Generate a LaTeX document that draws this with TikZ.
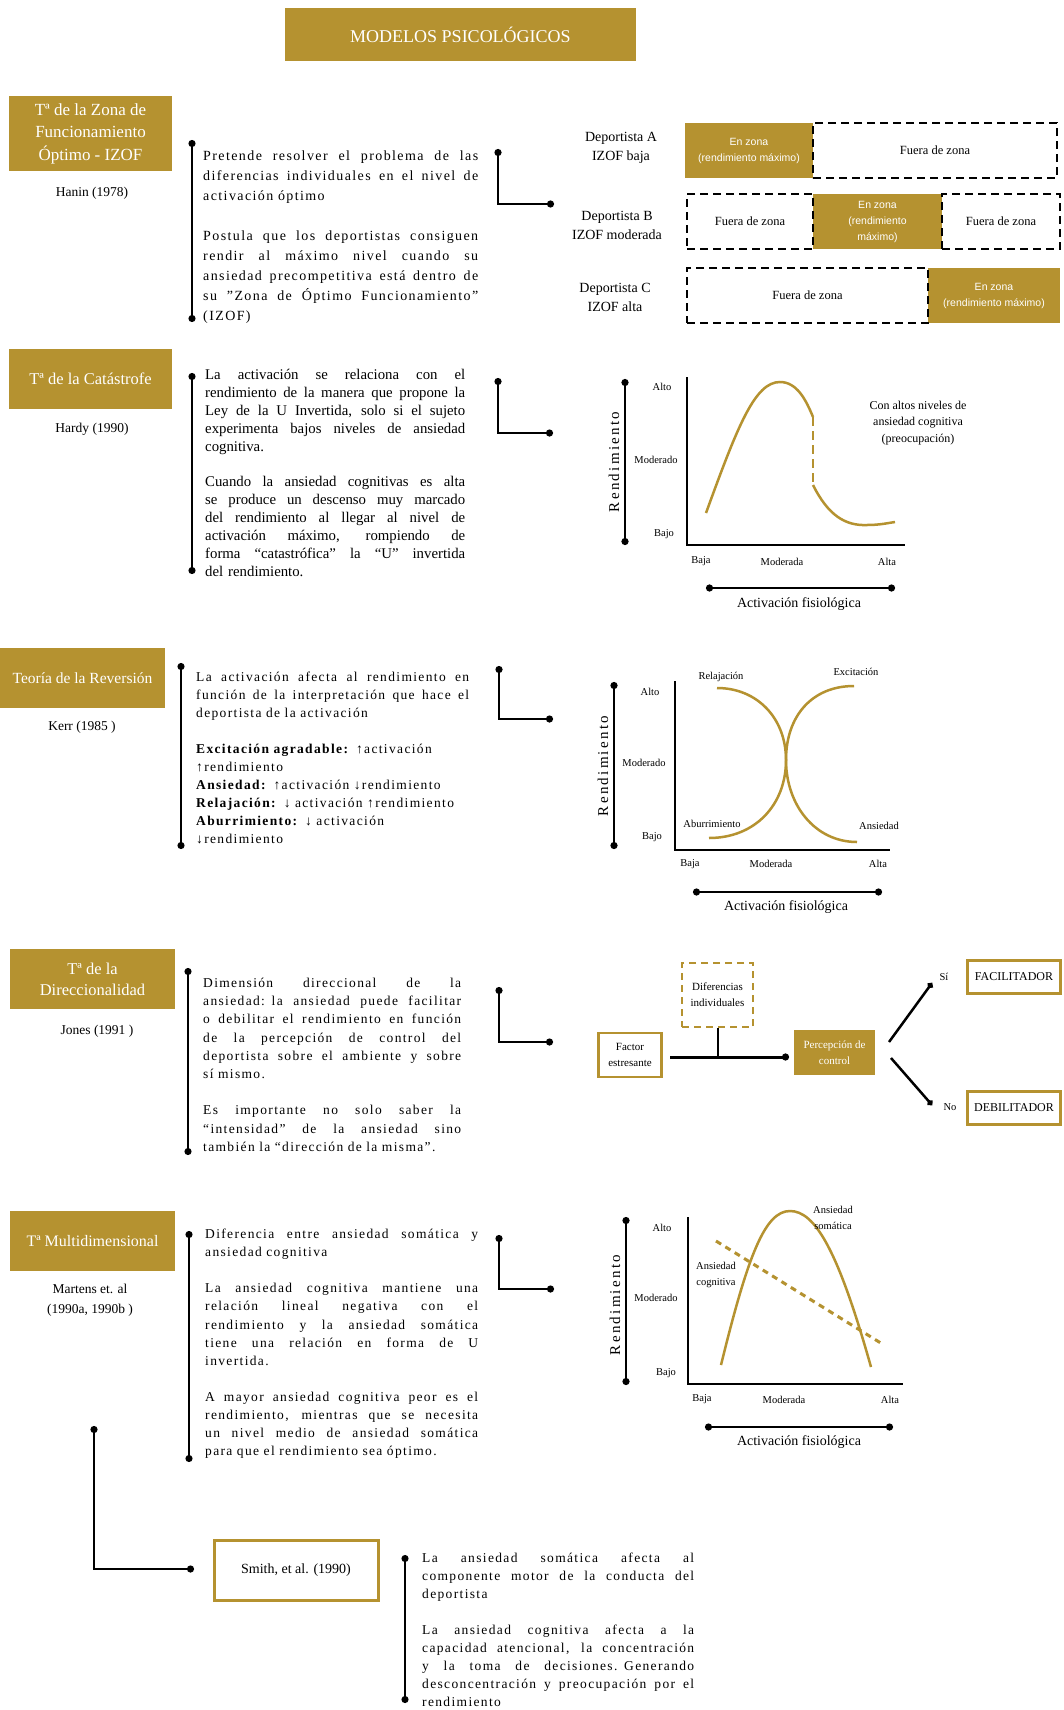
\documentclass[tikz,border=0pt]{standalone}
\usepackage{fontspec}
\setmainfont{Liberation Serif}
\newfontfamily\bodyfont[LetterSpace=10]{Liberation Serif}
\newfontfamily\plainbody{Liberation Serif}
\newfontfamily\axisfont[LetterSpace=15]{Liberation Serif}
\newfontfamily\zonefont{Liberation Sans}
\usetikzlibrary{arrows.meta}
\definecolor{gold}{RGB}{181,146,48}
% one justified line of a paragraph, spread to the column width
\newlength\jlw
\newcommand\jl[1]{\hbox to \jlw{\spaceskip=0.25em plus 1fil\relax #1}\par}
\newcommand\setfs[2]{\fontsize{#1}{#2}\selectfont}

\begin{document}
\begin{tikzpicture}[x=1pt,y=-1pt,
  wh/.style 2 args={minimum width=#1pt, minimum height=#2pt},
  goldbox/.style={fill=gold, text=white, inner sep=0pt, align=center},
  goldframe/.style={draw=gold, fill=white, line width=2.5pt, inner sep=0pt, align=center},
  zone/.style={draw=black, line width=2.6pt, dash pattern=on 8pt off 5pt, inner sep=0pt, align=center, font=\setfs{12.5}{15}},
  inzone/.style={goldbox, font=\zonefont\setfs{10.5}{16}},
  body/.style={anchor=base west, inner sep=0pt, text width=#1pt, align=left,
    execute at begin node={\setlength\jlw{#1pt}}},
  timeline/.style={line width=2pt, {Circle[length=7pt]}-{Circle[length=7pt]}},
  elbow/.style={line width=2.5pt, {Circle[length=7pt]}-{Circle[length=7pt]}},
  scalebar/.style={line width=2.8pt, {Circle[length=7pt]}-{Circle[length=7pt]}},
  axisline/.style={line width=2.5pt},
  goldcurve/.style={draw=gold, line width=2.5pt},
  lbl/.style={inner sep=0pt, align=center, font=\setfs{10.5}{16}},
  ref/.style={inner sep=0pt, align=center, font=\setfs{13.5}{20}},
  title/.style={goldbox, font=\setfs{16.5}{21}},
  axtitle/.style={inner sep=0pt, font=\setfs{14}{16}},
  rendlbl/.style={inner sep=0pt, rotate=90, font=\axisfont\setfs{15}{17}}
]
\useasboundingbox (0,0) rectangle (1063,1710);
\fill[white] (0,0) rectangle (1063,1710);

% ---------------- header
\node[goldbox, wh={351}{53}, font=\setfs{18}{20}] (head) at (460.5,34.5) {MODELOS PSICOLÓGICOS};

% ---------------- IZOF
\node[title, wh={163}{75}, font=\setfs{17}{22.5}] (izof) at (90.5,133.5) {Tª de la Zona de\\Funcionamiento\\Óptimo - IZOF};
\node[ref] (izofref) at (92,193) {Hanin (1978)};
\coordinate (izofTa) at (192,140);
\coordinate (izofTb) at (192,322);
\draw[timeline] (izofTa) -- (izofTb);
\node[body=275, font=\bodyfont\setfs{14}{20}] (izoftext) at (203,160) {%
\jl{Pretende resolver el problema de las}
\jl{diferencias individuales en el nivel de}
activación óptimo\par\vskip\baselineskip
\jl{Postula que los deportistas consiguen}
\jl{rendir al máximo nivel cuando su}
\jl{ansiedad precompetitiva está dentro de}
\jl{su ”Zona de Óptimo Funcionamiento”}
(IZOF)};
\coordinate (izofLa) at (498,149);
\coordinate (izofLb) at (554,204);
\draw[elbow] (izofLa) |- (izofLb);

\node[inner sep=0pt, align=center, font=\setfs{14}{19}] (depA) at (621,148) {Deportista A\\IZOF baja};
\node[inner sep=0pt, align=center, font=\setfs{14}{19}] (depB) at (617,225) {Deportista B\\IZOF moderada};
\node[inner sep=0pt, align=center, font=\setfs{14}{19}] (depC) at (615,297) {Deportista C\\IZOF alta};

\node[inzone, wh={128}{55}] (aIn) at (749,150.5) {En zona\\(rendimiento máximo)};
\node[zone, wh={244}{55}] (aOut) at (935,150.5) {Fuera de zona};

\node[inzone, wh={129}{55}] (bIn) at (877.5,221.5) {En zona\\(rendimiento\\máximo)};
\node[zone, wh={126}{55}] (bOutL) at (750,221.5) {Fuera de zona};
\node[zone, wh={118}{55}] (bOutR) at (1001,221.5) {Fuera de zona};

\node[inzone, wh={132}{55}] (cIn) at (994,295.5) {En zona\\(rendimiento máximo)};
\node[zone, wh={241}{55}] (cOut) at (807.5,295.5) {Fuera de zona};

% ---------------- Catástrofe
\node[title, wh={163}{60}] (cat) at (90.5,379) {Tª de la Catástrofe};
\node[ref] (catref) at (92,429) {Hardy (1990)};
\coordinate (catTa) at (192,373);
\coordinate (catTb) at (192,574);
\draw[timeline] (catTa) -- (catTb);
\node[body=260, font=\plainbody\setfs{14.8}{17.9}] (cattext) at (205,379.5) {%
\jl{La activación se relaciona con el}
\jl{rendimiento de la manera que propone la}
\jl{Ley de la U Invertida, solo si el sujeto}
\jl{experimenta bajos niveles de ansiedad}
cognitiva.\par\vskip\baselineskip
\jl{Cuando la ansiedad cognitivas es alta}
\jl{se produce un descenso muy marcado}
\jl{del rendimiento al llegar al nivel de}
\jl{activación máximo, rompiendo de}
\jl{forma “catastrófica” la “U” invertida}
del rendimiento.};
\coordinate (catLa) at (498,378);
\coordinate (catLb) at (553,433);
\draw[elbow] (catLa) |- (catLb);

\coordinate (catRa) at (625,379);
\coordinate (catRb) at (625,545);
\draw[scalebar] (catRa) -- (catRb);
\node[rendlbl] (catrend) at (614,462) {Rendimiento};
\coordinate (catYtop) at (687,377);
\coordinate (catXend) at (905,545);
\draw[axisline] (catYtop) |- (catXend);
\node[lbl] (catalto) at (662,387) {Alto};
\node[lbl] (catmod) at (656,460) {Moderado};
\node[lbl] (catbajo) at (664,534) {Bajo};
\node[lbl] (catbaja) at (701,561) {Baja};
\node[lbl] (catmoda) at (782,562) {Moderada};
\node[lbl] (catalta) at (887,562) {Alta};
\coordinate (catAa) at (706,588);
\coordinate (catAb) at (895,588);
\draw[scalebar] (catAa) -- (catAb);
\node[axtitle] (catact) at (799,604) {Activación fisiológica};
\draw[goldcurve] (706,513) .. controls (738,425) and (755,382) .. (780,382)
   .. controls (797,382) and (806,400) .. (813,417);
\draw[goldcurve, dash pattern=on 9pt off 5pt] (813,417) -- (813,485);
\draw[goldcurve] (813,485) .. controls (828,515) and (845,526) .. (867,525)
   .. controls (880,525) and (888,523) .. (895,522);
\node[inner sep=0pt, align=center, font=\setfs{12}{16.5}] (catnote) at (918,423) {Con altos niveles de\\ansiedad cognitiva\\(preocupación)};

% ---------------- Reversión
\node[title, wh={165}{60}, font=\setfs{15.5}{20}] (rev) at (82.5,678) {Teoría de la Reversión};
\node[ref] (revref) at (82,727) {Kerr (1985 )};
\coordinate (revTa) at (181,663);
\coordinate (revTb) at (181,849);
\draw[timeline] (revTa) -- (revTb);
\node[body=273, font=\bodyfont\setfs{13.5}{18}] (revtext) at (196,681.5) {%
\jl{La activación afecta al rendimiento en}
\jl{función de la interpretación que hace el}
deportista de la activación\par\vskip\baselineskip
\textbf{Excitación agradable:} ↑activación\par
↑rendimiento\par
\textbf{Ansiedad:} ↑activación ↓rendimiento\par
\textbf{Relajación:} ↓ activación ↑rendimiento\par
\textbf{Aburrimiento:} ↓ activación\par
↓rendimiento};
\coordinate (revLa) at (499,666);
\coordinate (revLb) at (553,719);
\draw[elbow] (revLa) |- (revLb);

\coordinate (revRa) at (614,682);
\coordinate (revRb) at (614,849);
\draw[scalebar] (revRa) -- (revRb);
\node[rendlbl] (revrend) at (603,766) {Rendimiento};
\coordinate (revYtop) at (675,681);
\coordinate (revXend) at (890,850);
\draw[axisline] (revYtop) |- (revXend);
\node[lbl] (revalto) at (650,692) {Alto};
\node[lbl] (revmod) at (644,763) {Moderado};
\node[lbl] (revbajo) at (652,837) {Bajo};
\node[lbl] (revbaja) at (690,864) {Baja};
\node[lbl] (revmoda) at (771,864) {Moderada};
\node[lbl] (revalta) at (878,864) {Alta};
\coordinate (revAa) at (693,892);
\coordinate (revAb) at (882,892);
\draw[scalebar] (revAa) -- (revAb);
\node[axtitle] (revact) at (786,907) {Activación fisiológica};
\draw[goldcurve] (717,688) .. controls (757,688) and (786,718) .. (786,760)
   .. controls (786,805) and (815,842) .. (857,842);
\draw[goldcurve] (709,838) .. controls (755,838) and (786,805) .. (786,760)
   .. controls (786,716) and (812,686) .. (854,686);
\node[lbl] (relax) at (721,677) {Relajación};
\node[lbl] (excit) at (856,672) {Excitación};
\node[lbl] (abur) at (712,824) {Aburrimiento};
\node[lbl] (ansi) at (879,826) {Ansiedad};

% ---------------- Direccionalidad
\node[title, wh={165}{60}] (dir) at (92.5,979) {Tª de la\\Direccionalidad};
\node[ref] (dirref) at (97,1031) {Jones (1991 )};
\coordinate (dirTa) at (188,968);
\coordinate (dirTb) at (188,1155);
\draw[timeline] (dirTa) -- (dirTb);
\node[body=258, font=\bodyfont\setfs{13.5}{18.2}] (dirtext) at (203,987.5) {%
\jl{Dimensión direccional de la}
\jl{ansiedad: la ansiedad puede facilitar}
\jl{o debilitar el rendimiento en función}
\jl{de la percepción de control del}
\jl{deportista sobre el ambiente y sobre}
sí mismo.\par\vskip\baselineskip
\jl{Es importante no solo saber la}
\jl{“intensidad” de la ansiedad sino}
también la “dirección de la misma”.};
\coordinate (dirLa) at (499,987);
\coordinate (dirLb) at (553,1042);
\draw[elbow] (dirLa) |- (dirLb);

\node[goldframe, wh={63}{44}, font=\setfs{11}{16}] (factor) at (630,1055) {Factor\\estresante};
\node[draw=gold, line width=2.5pt, dash pattern=on 7pt off 5pt, inner sep=0pt, align=center, wh={71}{64}, font=\setfs{11}{16}] (difer) at (717.5,995) {Diferencias\\individuales};
\node[goldbox, wh={81}{45}, font=\setfs{11}{16}] (percep) at (834.5,1052.5) {Percepción de\\control};
\coordinate (flowA) at (670,1057);
\coordinate (flowB) at (789,1057);
\draw[line width=3pt, -{Circle[length=7pt]}] (flowA) -- (flowB);
\draw[line width=2pt] (difer.south) -- (difer.south |- flowB);
\coordinate (upA) at (889,1042);
\coordinate (upB) at (932,983);
\coordinate (dnA) at (891,1058);
\coordinate (dnB) at (932,1105);
\draw[line width=2.5pt, -{Circle[length=6pt]}] (upA) -- (upB);
\draw[line width=2.5pt, -{Circle[length=6pt]}] (dnA) -- (dnB);
\node[lbl] (si) at (944,977) {Sí};
\node[lbl] (no) at (950,1107) {No};
\node[goldframe, wh={93}{33}, font=\setfs{12}{14}] (facil) at (1014,977) {FACILITADOR};
\node[goldframe, wh={93}{33}, font=\setfs{12}{14}] (debil) at (1014,1108) {DEBILITADOR};

% ---------------- Multidimensional
\node[title, wh={165}{60}, font=\setfs{16}{20}] (multi) at (92.5,1241) {Tª Multidimensional};
\node[ref] (multiref) at (90,1300) {Martens et. al\\(1990a, 1990b )};
\coordinate (multiTa) at (189,1231);
\coordinate (multiTb) at (189,1462);
\draw[timeline] (multiTa) -- (multiTb);
\node[body=273, font=\bodyfont\setfs{13.5}{18.1}] (multitext) at (205,1238.5) {%
\jl{Diferencia entre ansiedad somática y}
ansiedad cognitiva\par\vskip\baselineskip
\jl{La ansiedad cognitiva mantiene una}
\jl{relación lineal negativa con el}
\jl{rendimiento y la ansiedad somática}
\jl{tiene una relación en forma de U}
invertida.\par\vskip\baselineskip
\jl{A mayor ansiedad cognitiva peor es el}
\jl{rendimiento, mientras que se necesita}
\jl{un nivel medio de ansiedad somática}
para que el rendimiento sea óptimo.};
\coordinate (multiLa) at (499,1235);
\coordinate (multiLb) at (554,1289);
\draw[elbow] (multiLa) |- (multiLb);

\coordinate (multiRa) at (626,1217);
\coordinate (multiRb) at (626,1385);
\draw[scalebar] (multiRa) -- (multiRb);
\node[rendlbl] (multirend) at (615,1305) {Rendimiento};
\coordinate (multiYtop) at (688,1217);
\coordinate (multiXend) at (903,1384);
\draw[axisline] (multiYtop) |- (multiXend);
\node[lbl] (multialto) at (662,1228) {Alto};
\node[lbl] (multimod) at (656,1298) {Moderado};
\node[lbl] (multibajo) at (666,1373) {Bajo};
\node[lbl] (multibaja) at (702,1399) {Baja};
\node[lbl] (multimoda) at (784,1400) {Moderada};
\node[lbl] (multialta) at (890,1400) {Alta};
\coordinate (multiAa) at (705,1427);
\coordinate (multiAb) at (893,1427);
\draw[scalebar] (multiAa) -- (multiAb);
\node[axtitle] (multiact) at (799,1442) {Activación fisiológica};
\draw[goldcurve] (721,1365) .. controls (748,1255) and (765,1211) .. (790,1211)
   .. controls (815,1211) and (838,1250) .. (871,1367);
\draw[goldcurve, line width=3pt, dash pattern=on 6pt off 5pt] (716,1241) -- (884,1345);
\node[lbl] (soma) at (833,1218) {Ansiedad\\somática};
\node[lbl] (cogn) at (716,1275) {Ansiedad\\cognitiva};

% ---------------- Smith et al.
\coordinate (smithA) at (94,1426);
\coordinate (smithB) at (194,1569);
\draw[elbow] (smithA) |- (smithB);
\node[goldframe, line width=3pt, wh={164}{60}, font=\setfs{14}{16}] (smith) at (296,1570) {Smith, et al. (1990)};
\coordinate (smithTa) at (405,1555);
\coordinate (smithTb) at (405,1703);
\draw[timeline] (smithTa) -- (smithTb);
\node[body=272, font=\bodyfont\setfs{13.5}{18}] (smithtext) at (422,1562.5) {%
\jl{La ansiedad somática afecta al}
\jl{componente motor de la conducta del}
deportista\par\vskip\baselineskip
\jl{La ansiedad cognitiva afecta a la}
\jl{capacidad atencional, la concentración}
\jl{y la toma de decisiones. Generando}
\jl{desconcentración y preocupación por el}
rendimiento};
\end{tikzpicture}
\end{document}
